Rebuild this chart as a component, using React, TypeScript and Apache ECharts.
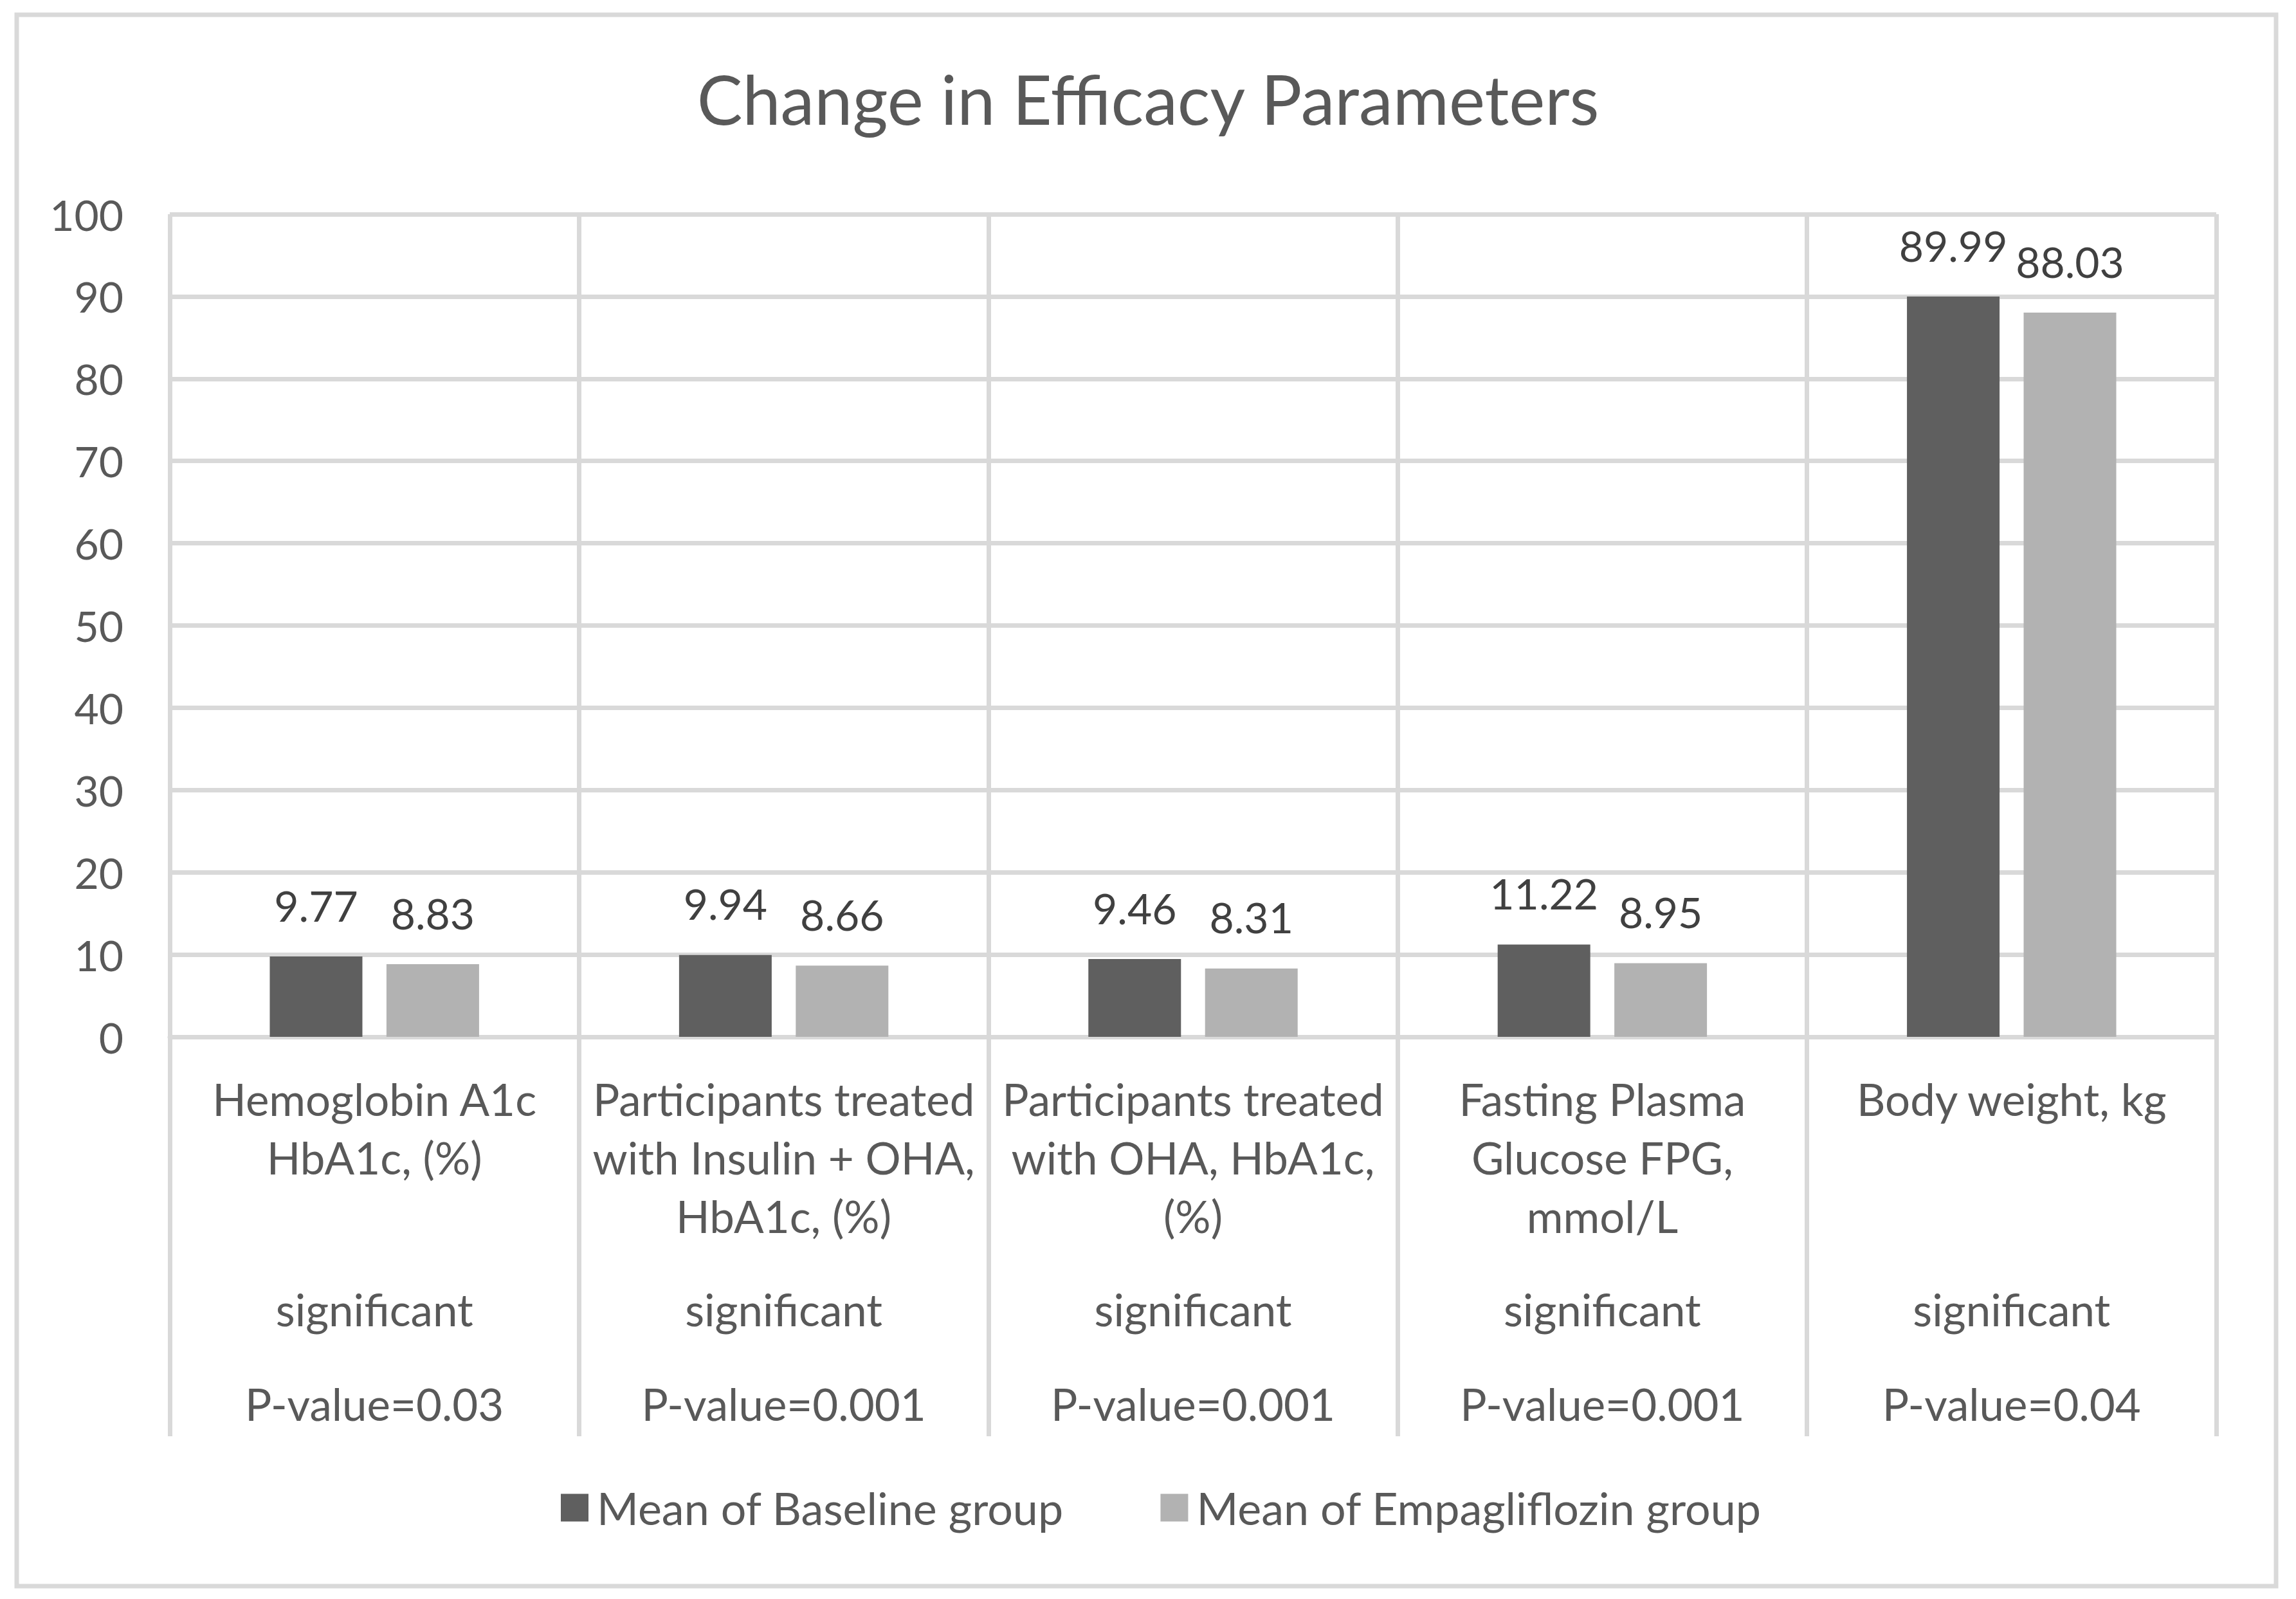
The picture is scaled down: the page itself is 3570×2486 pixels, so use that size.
import React, { useEffect, useRef } from "react";
import * as echarts from "echarts";

const categories = [
  "Hemoglobin A1c\nHbA1c, (%)",
  "Participants treated\nwith Insulin + OHA,\nHbA1c, (%)",
  "Participants treated\nwith OHA, HbA1c,\n(%)",
  "Fasting Plasma\nGlucose FPG,\nmmol/L",
  "Body weight, kg",
];
const significance = ["significant", "significant", "significant", "significant", "significant"];
const pValues = ["P-value=0.03", "P-value=0.001", "P-value=0.001", "P-value=0.001", "P-value=0.04"];
const seriesNames = ["Mean of Baseline group", "Mean of Empagliflozin group"];
const baselineValues = [9.77, 9.94, 9.46, 11.22, 89.99];
const empagliflozinValues = [8.83, 8.66, 8.31, 8.95, 88.03];
const yMin = 0;
const yMax = 100;
const yStep = 10;

const FONT = "Lato, Carlito, Calibri, sans-serif";
const GRID_COLOR = "#d9d9d9";
const TEXT_COLOR = "#595959";

export default function App() {
  const ref = useRef<HTMLDivElement>(null);
  useEffect(() => {
    if (!ref.current) return;
    const chart = echarts.init(ref.current, null, { renderer: "svg" });
    const labelStyle = {
      fontFamily: FONT,
      fontSize: 69,
      lineHeight: 91,
      color: TEXT_COLOR,
    };
    const secondaryAxis = (data: string[], margin: number) => ({
      type: "category",
      gridIndex: 0,
      position: "bottom",
      data,
      min: 0,
      max: data.length - 1,
      axisLine: { show: false },
      axisTick: { show: false },
      splitLine: { show: false },
      axisLabel: { ...labelStyle, interval: 0, margin },
    });
    const valueLabel = {
      show: true,
      position: "top",
      distance: 45,
      fontFamily: FONT,
      fontSize: 66,
      lineHeight: 70,
      color: "#404040",
    };
    chart.setOption({
      animation: false,
      backgroundColor: "#ffffff",
      textStyle: { fontFamily: FONT },
      title: {
        text: "Change in Efficacy Parameters",
        left: "center",
        top: 84,
        textStyle: {
          fontFamily: FONT,
          fontSize: 106,
          lineHeight: 128,
          fontWeight: "normal",
          color: TEXT_COLOR,
        },
      },
      graphic: [
        {
          type: "rect",
          silent: true,
          z: -10,
          shape: { x: 26, y: 23, width: 3513, height: 2443 },
          style: { fill: "none", stroke: GRID_COLOR, lineWidth: 7 },
        },
      ],
      legend: {
        data: seriesNames,
        left: 867,
        top: 2304,
        icon: "rect",
        itemWidth: 43,
        itemHeight: 43,
        itemGap: 150,
        textStyle: {
          fontFamily: FONT,
          fontSize: 70,
          color: TEXT_COLOR,
          padding: [0, 0, 0, 8],
        },
      },
      grid: { left: 264, right: 124, top: 333, bottom: 874, containLabel: false },
      xAxis: [
        {
          type: "category",
          data: categories,
          axisLine: { show: true, lineStyle: { color: GRID_COLOR, width: 7 } },
          axisTick: {
            show: true,
            length: 621,
            lineStyle: { color: GRID_COLOR, width: 7 },
          },
          splitLine: { show: true, lineStyle: { color: GRID_COLOR, width: 7 } },
          axisLabel: { ...labelStyle, interval: 0, margin: 51 },
        },
        secondaryAxis(significance, 378),
        secondaryAxis(pValues, 525),
      ],
      yAxis: {
        type: "value",
        min: yMin,
        max: yMax,
        interval: yStep,
        axisLine: { show: false },
        axisTick: { show: false },
        splitLine: { show: true, lineStyle: { color: GRID_COLOR, width: 7 } },
        axisLabel: { fontFamily: FONT, fontSize: 66, color: TEXT_COLOR, margin: 72 },
      },
      series: [
        {
          name: seriesNames[0],
          type: "bar",
          xAxisIndex: 0,
          data: baselineValues,
          barWidth: 144,
          barGap: "26%",
          itemStyle: { color: "#5f5f5f" },
          label: valueLabel,
        },
        {
          name: seriesNames[1],
          type: "bar",
          xAxisIndex: 0,
          data: empagliflozinValues,
          barWidth: 144,
          barGap: "26%",
          itemStyle: { color: "#b2b2b2" },
          label: valueLabel,
        },
      ],
    });
    return () => chart.dispose();
  }, []);
  return (
    <div
      ref={ref}
      style={{ position: "fixed", left: 0, top: 0, width: 3570, height: 2486, background: "#fff" }}
    />
  );
}
